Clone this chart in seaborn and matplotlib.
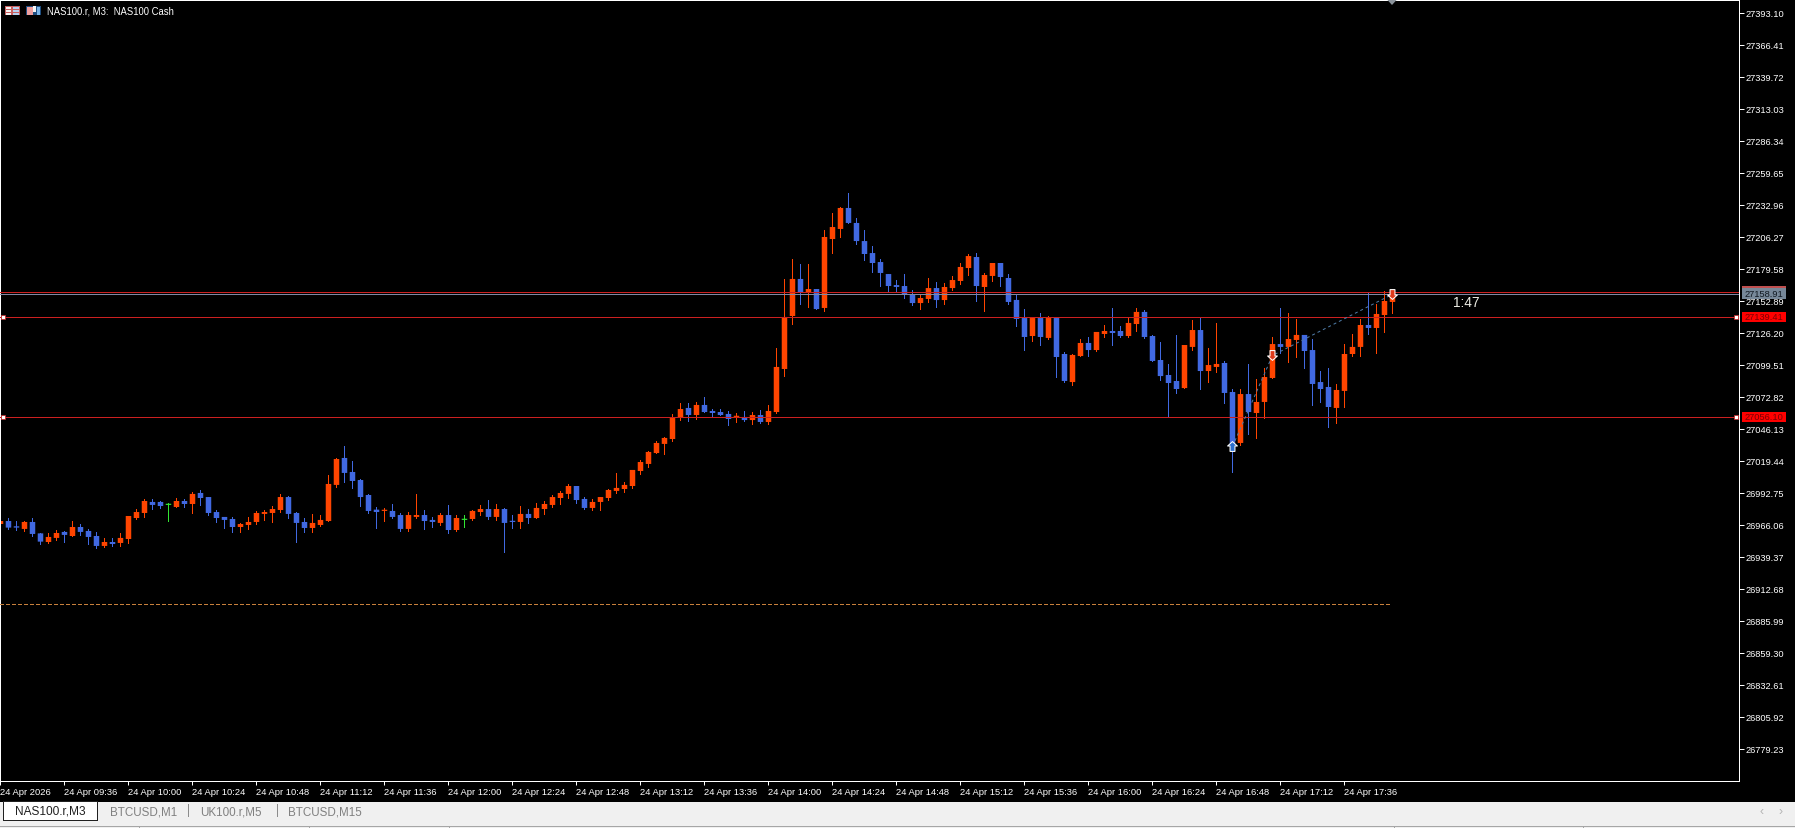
import matplotlib
matplotlib.use("Agg")
import matplotlib.pyplot as plt
from matplotlib.patches import Rectangle, Polygon
from matplotlib.path import Path
from matplotlib.transforms import blended_transform_factory
import numpy as np
import pandas as pd
import seaborn as sns

# ---------------- data (NAS100.r, M3 candles) ----------------
highs = [
 26969.7, 26971.3, 26968.8, 26968.8, 26971.3, 26958.8, 26958.8, 26961.3, 26960.5, 26968.8,
 26966.3, 26962.2, 26959.7, 26954.7, 26954.7, 26958.8, 26973.0, 26978.8, 26987.2, 26987.2,
 26985.8, 26983.8, 26988.3, 26987.2, 26993.0, 26994.7, 26988.8, 26978.0, 26972.2, 26972.2,
 26967.2, 26972.2, 26977.2, 26978.0, 26981.3, 26991.4, 26989.7, 26976.3, 26971.3, 26974.7,
 26973.8, 27007.2, 27021.4, 27031.4, 27018.9, 27003.9, 26991.4, 26980.5, 26979.7, 26983.0,
 26975.5, 26976.3, 26991.4, 26978.0, 26972.2, 26975.5, 26982.2, 26973.8, 26973.8, 26978.0,
 26982.2, 26986.3, 26983.0, 26979.7, 26973.8, 26981.3, 26978.8, 26983.8, 26985.5, 26990.5,
 26993.9, 26999.7, 26998.0, 26988.8, 26987.2, 26988.8, 26995.5, 27008.9, 27001.4, 27011.4,
 27019.7, 27027.2, 27035.6, 27038.9, 27058.1, 27067.2, 27067.2, 27068.1, 27072.2, 27062.2,
 27062.2, 27060.6, 27058.9, 27060.6, 27059.7, 27061.4, 27065.6, 27113.1, 27170.7, 27187.3,
 27183.2, 27183.2, 27162.3, 27211.5, 27225.7, 27230.7, 27242.4, 27221.5, 27211.5, 27198.2,
 27187.3, 27174.8, 27169.8, 27174.8, 27161.5, 27157.3, 27171.5, 27168.2, 27167.3, 27173.2,
 27184.0, 27191.5, 27192.3, 27175.7, 27184.0, 27184.0, 27174.8, 27158.2, 27145.6, 27138.1,
 27142.3, 27139.8, 27138.1, 27109.8, 27108.1, 27120.6, 27122.3, 27126.5, 27132.3, 27146.5,
 27131.5, 27138.1, 27146.5, 27144.8, 27124.0, 27118.1, 27099.8, 27124.0, 27115.6, 27136.5,
 27139.0, 27113.1, 27134.0, 27102.3, 27078.9, 27078.9, 27099.8, 27087.2, 27096.4, 27122.3,
 27146.5, 27142.3, 27137.3, 27124.0, 27120.6, 27093.9, 27096.4, 27083.1, 27116.4, 27124.8,
 27137.3, 27159.0, 27149.8, 27160.7, 27160.7]
body_tops = [
 26968.8, 26968.8, 26964.4, 26968.0, 26968.0, 26958.5, 26955.5, 26958.8, 26959.7, 26963.8,
 26963.8, 26960.5, 26956.3, 26951.3, 26951.3, 26954.7, 26973.0, 26976.3, 26985.5, 26984.7,
 26984.7, 26982.2, 26985.5, 26985.5, 26991.4, 26992.2, 26988.8, 26976.3, 26972.2, 26970.5,
 26966.3, 26968.0, 26975.5, 26976.3, 26978.8, 26988.8, 26988.8, 26975.5, 26968.0, 26967.2,
 26969.7, 26999.7, 27020.5, 27021.4, 27009.7, 27003.0, 26990.5, 26978.3, 26978.0, 26977.2,
 26973.8, 26973.8, 26973.8, 26973.8, 26969.7, 26973.8, 26973.8, 26971.3, 26969.7, 26977.2,
 26978.8, 26978.8, 26978.8, 26978.8, 26968.8, 26974.7, 26974.7, 26979.7, 26983.0, 26988.8,
 26992.2, 26998.0, 26998.0, 26987.2, 26984.7, 26988.8, 26994.7, 26996.4, 26998.9, 27011.4,
 27018.0, 27026.4, 27033.9, 27038.1, 27054.7, 27062.2, 27063.1, 27065.6, 27065.6, 27060.6,
 27059.7, 27058.1, 27056.4, 27055.6, 27057.2, 27057.2, 27060.6, 27097.3, 27139.0, 27170.7,
 27170.7, 27162.3, 27162.3, 27205.7, 27214.0, 27229.9, 27229.9, 27217.4, 27202.3, 27192.3,
 27184.8, 27174.8, 27165.6, 27164.8, 27158.1, 27154.8, 27163.1, 27163.1, 27164.0, 27169.8,
 27180.7, 27189.8, 27189.0, 27174.0, 27184.0, 27184.0, 27171.5, 27153.2, 27138.1, 27138.1,
 27138.1, 27138.1, 27138.1, 27108.1, 27107.3, 27117.3, 27117.3, 27126.5, 27127.3, 27127.3,
 27127.3, 27134.0, 27143.2, 27143.2, 27123.1, 27103.1, 27090.6, 27085.6, 27115.6, 27128.1,
 27128.1, 27098.9, 27099.8, 27100.6, 27076.4, 27074.7, 27074.7, 27068.1, 27088.9, 27116.4,
 27116.4, 27120.6, 27124.0, 27124.0, 27111.4, 27084.7, 27080.6, 27078.1, 27108.1, 27114.0,
 27132.3, 27132.3, 27141.5, 27152.3, 27158.2]
body_bottoms = [
 26966.3, 26963.3, 26963.3, 26962.2, 26958.0, 26951.6, 26951.3, 26954.7, 26957.2, 26956.3,
 26959.7, 26955.5, 26948.0, 26948.0, 26949.6, 26950.5, 26953.8, 26971.3, 26975.5, 26982.2,
 26981.3, 26982.2, 26980.5, 26983.0, 26983.0, 26988.0, 26975.5, 26971.3, 26969.7, 26963.8,
 26963.8, 26965.5, 26968.0, 26974.7, 26975.5, 26978.0, 26974.7, 26967.2, 26963.0, 26963.0,
 26965.5, 26968.8, 26998.9, 27008.9, 27002.2, 26988.8, 26977.2, 26976.3, 26977.2, 26972.2,
 26962.2, 26962.2, 26972.2, 26968.8, 26968.0, 26967.2, 26961.3, 26961.3, 26969.7, 26970.5,
 26976.3, 26972.2, 26972.2, 26967.2, 26968.0, 26968.0, 26971.3, 26971.3, 26978.8, 26982.2,
 26988.0, 26991.4, 26986.3, 26979.7, 26979.7, 26984.7, 26988.0, 26993.9, 26995.5, 26998.0,
 27010.5, 27016.4, 27025.5, 27033.1, 27037.2, 27054.7, 27057.2, 27057.2, 27059.7, 27058.9,
 27057.2, 27053.9, 27055.6, 27053.0, 27053.0, 27051.4, 27051.4, 27059.7, 27095.6, 27139.8,
 27159.8, 27159.8, 27145.6, 27146.5, 27204.0, 27212.4, 27217.4, 27202.3, 27191.5, 27184.0,
 27175.7, 27164.8, 27164.0, 27157.3, 27150.6, 27150.6, 27154.0, 27153.1, 27153.1, 27163.1,
 27169.0, 27179.8, 27164.8, 27164.0, 27173.2, 27172.3, 27151.5, 27137.3, 27122.3, 27123.1,
 27122.3, 27121.5, 27105.6, 27085.6, 27084.7, 27106.4, 27111.4, 27111.4, 27124.8, 27125.6,
 27123.1, 27123.1, 27133.1, 27122.3, 27102.3, 27089.7, 27083.9, 27078.9, 27079.7, 27114.0,
 27093.9, 27093.9, 27097.3, 27075.6, 27032.2, 27033.9, 27059.7, 27058.9, 27068.1, 27088.1,
 27114.0, 27114.0, 27119.8, 27110.6, 27083.1, 27078.9, 27063.9, 27063.1, 27077.3, 27108.1,
 27114.0, 27129.8, 27129.8, 27140.6, 27151.5]
lows = [
 26965.5, 26962.2, 26961.3, 26960.5, 26956.3, 26949.6, 26950.5, 26953.0, 26951.3, 26956.3,
 26957.2, 26949.6, 26946.3, 26947.1, 26948.0, 26948.0, 26950.5, 26970.5, 26972.2, 26978.8,
 26980.0, 26968.8, 26980.5, 26980.5, 26975.5, 26982.2, 26973.8, 26968.0, 26963.0, 26959.7,
 26959.7, 26962.2, 26966.3, 26969.7, 26968.0, 26976.3, 26971.3, 26951.3, 26959.7, 26959.7,
 26964.7, 26968.8, 26997.2, 27001.4, 26996.4, 26981.3, 26975.5, 26963.0, 26968.8, 26971.3,
 26960.5, 26960.5, 26971.3, 26962.2, 26963.8, 26965.5, 26958.8, 26960.5, 26963.8, 26969.7,
 26973.8, 26970.5, 26969.7, 26943.0, 26963.0, 26963.0, 26967.2, 26971.3, 26974.7, 26980.5,
 26983.0, 26988.0, 26983.8, 26978.8, 26978.0, 26978.0, 26986.3, 26992.2, 26993.0, 26996.4,
 27008.0, 27013.9, 27025.5, 27024.7, 27035.6, 27053.0, 27052.2, 27053.9, 27059.7, 27056.4,
 27057.2, 27048.9, 27051.4, 27052.2, 27049.7, 27050.6, 27049.7, 27058.9, 27089.8, 27133.1,
 27149.8, 27147.3, 27145.6, 27144.0, 27192.3, 27205.7, 27217.4, 27199.8, 27186.5, 27176.5,
 27164.8, 27160.6, 27159.8, 27154.8, 27149.0, 27145.6, 27151.5, 27147.3, 27149.8, 27161.5,
 27166.5, 27174.0, 27152.3, 27144.0, 27169.0, 27164.8, 27149.8, 27131.5, 27111.4, 27119.0,
 27115.6, 27120.6, 27088.9, 27084.7, 27082.2, 27106.4, 27106.4, 27110.6, 27122.3, 27115.6,
 27122.3, 27122.3, 27127.3, 27121.5, 27102.3, 27086.4, 27056.4, 27075.6, 27079.7, 27111.4,
 27078.9, 27084.7, 27093.1, 27067.2, 27009.7, 27032.2, 27041.4, 27038.0, 27054.7, 27088.1,
 27108.9, 27101.4, 27105.6, 27096.4, 27065.6, 27068.1, 27047.2, 27050.6, 27063.9, 27106.4,
 27106.4, 27124.8, 27108.9, 27126.5, 27142.3]
# direction runs: (first bar of the run, u = rising / d = falling / n = unchanged)
direction_runs = [(0,'u'),(1,'d'),(3,'u'),(4,'d'),(6,'u'),(8,'d'),(9,'u'),(10,'d'),(13,'u'),(14,'d'),(15,'u'),
           (19,'d'),(21,'n'),(22,'u'),(23,'d'),(24,'u'),(25,'d'),(30,'u'),(36,'d'),(39,'u'),(43,'d'),
           (48,'u'),(49,'d'),(51,'u'),(53,'d'),(55,'u'),(56,'d'),(57,'u'),(58,'n'),(59,'u'),(61,'d'),
           (62,'u'),(63,'d'),(65,'u'),(66,'d'),(67,'u'),(72,'d'),(74,'u'),(86,'d'),(87,'u'),(88,'d'),
           (92,'u'),(93,'d'),(94,'u'),(95,'d'),(96,'u'),(100,'d'),(101,'u'),(102,'d'),(103,'u'),(106,'d'),
           (115,'u'),(117,'d'),(118,'u'),(122,'d'),(123,'u'),(125,'d'),(129,'u'),(130,'d'),(131,'u'),
           (132,'d'),(134,'u'),(136,'d'),(137,'u'),(139,'d'),(141,'u'),(143,'d'),(148,'u'),(150,'d'),
           (151,'u'),(153,'d'),(155,'u'),(156,'d'),(157,'u'),(160,'d'),(161,'u'),(163,'d'),(167,'u'),
           (171,'d'),(172,'u')]

price_ticks = ["27393.10","27366.41","27339.72","27313.03","27286.34","27259.65","27232.96","27206.27",
               "27179.58","27152.89","27126.20","27099.51","27072.82","27046.13","27019.44","26992.75",
               "26966.06","26939.37","26912.68","26885.99","26859.30","26832.61","26805.92","26779.23"]
time_ticks = ["24 Apr 2026","24 Apr 09:36","24 Apr 10:00","24 Apr 10:24","24 Apr 10:48","24 Apr 11:12",
              "24 Apr 11:36","24 Apr 12:00","24 Apr 12:24","24 Apr 12:48","24 Apr 13:12","24 Apr 13:36",
              "24 Apr 14:00","24 Apr 14:24","24 Apr 14:48","24 Apr 15:12","24 Apr 15:36","24 Apr 16:00",
              "24 Apr 16:24","24 Apr 16:48","24 Apr 17:12","24 Apr 17:36"]
level_prices = [27160.2, 27139.41, 27056.10]
bid_price = 27158.91
dashed_level = 26899.6
trade_bars = [154, 159, 174]
trade_prices = [27031.4, 27107.3, 27158.4]
tab_names = ["NAS100.r,M3", "BTCUSD,M1", "UK100.r,M5", "BTCUSD,M15"]

# ---------------- derived table ----------------
n_bars = len(highs)
assert len(lows) == len(body_tops) == len(body_bottoms) == n_bars == 175
side = []
for i, (start, s) in enumerate(direction_runs):
    stop = direction_runs[i + 1][0] if i + 1 < len(direction_runs) else n_bars
    side += [s] * (stop - start)
assert len(side) == n_bars
df = pd.DataFrame({"bar": np.arange(n_bars), "high": highs, "top": body_tops,
                   "bottom": body_bottoms, "low": lows, "side": side})

# ---------------- figure ----------------
sns.set_theme(style="dark", rc={
    "figure.facecolor": "black", "axes.facecolor": "black", "axes.edgecolor": "white",
    "text.color": "white", "xtick.color": "white", "ytick.color": "white",
    "axes.linewidth": 0.72, "axes.grid": False})
plt.rcParams["font.family"] = ["Liberation Sans", "DejaVu Sans"]

W, H = 1795, 829
fig = plt.figure(figsize=(W / 100, H / 100), dpi=100, facecolor="black")
AX_L, AX_R, AX_T, AX_B = 0.49, 1739.49, 0.51, 781.51
ax = fig.add_axes([AX_L / W, 1 - AX_B / H, (AX_R - AX_L) / W, (AX_B - AX_T) / H])

PX_PER_BAR = 8.0
PRICE_PER_PX = 26.69 / 32
Y0_PX, Y0_PRICE = 13.8, 27393.10
ax.set_xlim(0, (AX_R - AX_L) / PX_PER_BAR)
ax.set_ylim(Y0_PRICE - (AX_B - Y0_PX) * PRICE_PER_PX, Y0_PRICE - (AX_T - Y0_PX) * PRICE_PER_PX)

# candle edges were read on pixel edges: half a pixel up relative to the tick rows
edge_offset = 0.5 * PRICE_PER_PX
colors = {"u": "#FF4500", "d": "#4169E1", "n": "#32E632"}
min_h = PRICE_PER_PX * 1.2
for s, g in df.groupby("side"):
    c = colors[s]
    ax.vlines(g["bar"], g["low"] + edge_offset, g["high"] + edge_offset, color=c, lw=0.72,
              antialiased=False, zorder=2)
    ax.bar(g["bar"], np.maximum(g["top"] - g["bottom"], min_h), bottom=g["bottom"] + edge_offset,
           width=5.5 / PX_PER_BAR, color=c, linewidth=0, antialiased=True, snap=False, zorder=2)

# levels
ylike = ax.get_yaxis_transform()
ax.hlines(level_prices, 0, 1, transform=ylike, color="#CC2020", lw=0.72, antialiased=False, zorder=3)
ax.hlines(bid_price, 0, 1, transform=ylike, color="#8088A4", lw=0.72, antialiased=False, zorder=3)
ax.hlines(dashed_level, 0, (1389 - AX_L) / PX_PER_BAR, color="#C8803C", lw=0.72,
          linestyles=(0, (3.5, 2.3)), antialiased=False, zorder=3)

# trade path and arrows
trades = pd.DataFrame({"bar": trade_bars, "price": trade_prices})
sns.lineplot(data=trades, x="bar", y="price", ax=ax, color="#4F7CA8", lw=0.72,
             linestyle=(0, (3, 3)), zorder=3, legend=False, errorbar=None, sort=False)
arrow_up = Path([(0, 1), (1, 0.1), (0.5, 0.1), (0.5, -1), (-0.5, -1), (-0.5, 0.1), (-1, 0.1), (0, 1)], closed=True)
arrow_dn = Path([(0, -1), (1, -0.1), (0.5, -0.1), (0.5, 1), (-0.5, 1), (-0.5, -0.1), (-1, -0.1), (0, -1)], closed=True)
sns.scatterplot(x=trades["bar"][:1], y=trades["price"][:1], ax=ax, marker=arrow_up, s=50, color="#2A6FD0",
                edgecolor="white", linewidth=0.75, zorder=6, legend=False, clip_on=False)
sns.scatterplot(x=trades["bar"][1:], y=trades["price"][1:], ax=ax, marker=arrow_dn, s=50, color="#E03A1A",
                edgecolor="white", linewidth=0.75, zorder=6, legend=False, clip_on=False)
ax.set_xlabel(""); ax.set_ylabel("")

# line handles
trans = blended_transform_factory(ax.transAxes, ax.transData)
for frac in (2.8 / AX_R, 1736.3 / AX_R):
    ax.scatter([frac] * 2, level_prices[1:], transform=trans, marker="s", s=10, color="white",
               edgecolor="#CC2020", linewidth=0.5, zorder=6, clip_on=False)

# axes and ticks
ax.yaxis.tick_right()
ax.set_yticks(Y0_PRICE - np.arange(len(price_ticks)) * 26.69)
ax.set_yticklabels(price_ticks)
ax.set_xticks(np.arange(len(time_ticks)) * 8)
ax.set_xticklabels(time_ticks, ha="left")
ax.tick_params(axis="y", right=True, length=3.4, width=0.72, pad=1.0, labelsize=6.7, labelcolor="white", color="white")
ax.tick_params(axis="x", bottom=True, length=3.0, width=0.72, pad=1.4, labelsize=6.75, labelcolor="white", color="white")
for s in ax.spines.values():
    s.set_color("white"); s.set_linewidth(0.72); s.set_visible(True)

# ---------------- pixel helpers for the terminal chrome ----------------
def rect(x0, y0, x1, y1, fc, ec="none", lw=0, z=5):
    fig.add_artist(Rectangle((x0 / W, 1 - y1 / H), (x1 - x0) / W, (y1 - y0) / H, transform=fig.transFigure,
                             facecolor=fc, edgecolor=ec, linewidth=lw, zorder=z, antialiased=False))

def label(x, y, s, size, color, ha="left", z=7):
    fig.text(x / W, 1 - y / H, s, fontsize=size, color=color, ha=ha, va="center", zorder=z)

# price tags on the axis
rect(1742, 286.7, 1786, 297, "#C05050", z=5)
rect(1742, 289.3, 1786, 299.5, "#778899", z=5)
label(1745, 294.6, "27158.91", 6.7, "#101820")
for lv, txt in zip(level_prices[1:], ["27139.41", "27056.10"]):
    yp = Y0_PX + (Y0_PRICE - lv) / PRICE_PER_PX
    rect(1742, yp - 5.3, 1786, yp + 4.9, "#FF0000", z=5)
    label(1745, yp, txt, 6.7, "#7A0000")

# top-left caption and icons
rect(5, 6.5, 19.5, 16, "#C86060", z=5)
for yy in (8, 11, 14):
    rect(6, yy, 11, yy + 2, "#F4F4F4", z=6)
    rect(12.5, yy, 18.5, yy + 2, "#B8D0F0", z=6)
rect(26, 6.5, 41, 16, "#1E4E80", z=5)
rect(27, 7.5, 32.5, 16, "#F0A0A0", z=6)
rect(33, 7, 36, 13, "#F4F4F4", z=6)
rect(36.5, 7.5, 40, 16, "#78B4E8", z=6)
label(47, 11, "NAS100.r, M3:  NAS100 Cash", 6.85, "white")
label(1466, 302.7, "1:47", 9.9, "#ECECE4", ha="center")
fig.add_artist(Polygon([(1386.5 / W, 1 - 0 / H), (1397.5 / W, 1 - 0 / H), (1392 / W, 1 - 6 / H)],
                       transform=fig.transFigure, facecolor="#8A929A", edgecolor="none", zorder=5))

# tab bar
rect(0, 802.7, W, H, "#F0F0F0", z=4)
rect(2.5, 802.3, 97.3, 820.8, "white", ec="#202020", lw=0.6, z=5)
label(50, 812, tab_names[0], 8.6, "#202020", ha="center")
label(110, 812.5, tab_names[1], 8.35, "#808080")
label(200, 812.5, tab_names[2], 8.35, "#808080")
label(288, 812.5, tab_names[3], 8.35, "#808080")
for xs in (187.5, 276.5):
    rect(xs, 805, xs + 1, 818, "#8C8C8C", z=6)
label(1762, 812, "\u2039", 9, "#B4B4B4", ha="center")
label(1781, 812, "\u203a", 9, "#B4B4B4", ha="center")
rect(0, 827, W, 828, "#A6A6A6", z=6)
for xs in (139, 309, 449, 1394, 1583):
    rect(xs, 827, xs + 1, 829, "#A6A6A6", z=6)

fig.savefig("out.png", dpi=100, facecolor="black")
